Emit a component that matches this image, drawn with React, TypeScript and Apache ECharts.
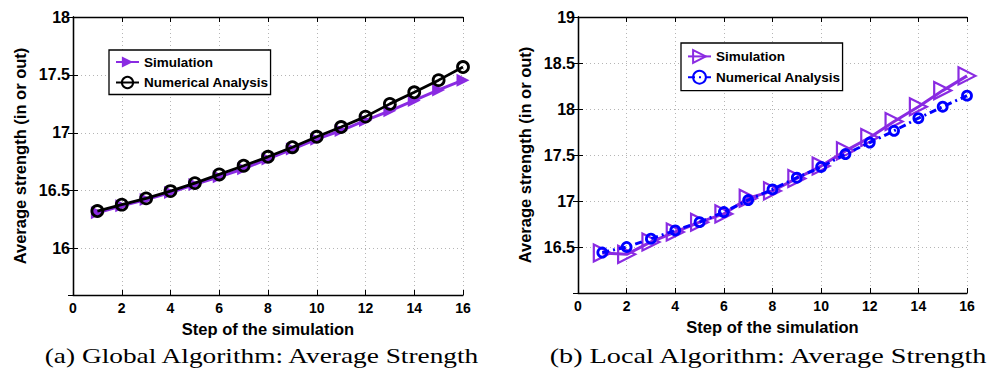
import React, { useEffect, useRef } from "react";
import * as echarts from "echarts";

const steps = [1, 2, 3, 4, 5, 6, 7, 8, 9, 10, 11, 12, 13, 14, 15, 16];

const globalSimulation = [16.31, 16.37, 16.425, 16.485, 16.555, 16.62, 16.69, 16.775, 16.86, 16.945, 17.02, 17.107, 17.19, 17.28, 17.37, 17.455];
const globalNumerical = [16.325, 16.38, 16.434, 16.497, 16.566, 16.641, 16.716, 16.793, 16.876, 16.966, 17.05, 17.14, 17.25, 17.35, 17.455, 17.568];

const localSimulation = [16.435, 16.42, 16.555, 16.663, 16.77, 16.86, 17.03, 17.11, 17.245, 17.38, 17.545, 17.69, 17.865, 18.025, 18.2, 18.36];
const localNumerical = [16.44, 16.5, 16.59, 16.68, 16.77, 16.88, 17.01, 17.126, 17.253, 17.37, 17.51, 17.635, 17.763, 17.9, 18.025, 18.145];

const seriesNames = ["Simulation", "Numerical Analysis"];
const captions = ["(a) Global Algorithm: Average Strength", "(b) Local Algorithm: Average Strength"];
const xAxisTitle = "Step of the simulation";
const yAxisTitle = "Average strength (in or out)";

const xRange = { min: 0, max: 16, interval: 2 };
const yRangeA = { min: 15.6, max: 18 };
const yRangeB = { min: 16, max: 19, interval: 0.5 };

const PURPLE = "#8a2be2";
const BLUE = "#0000ff";
const SANS = "Liberation Sans";
const SERIF = "Liberation Serif";

function pairs(ys: number[]) {
  return steps.map((s, i) => [s, ys[i]]);
}

function measure(text: string, size: number, family: string) {
  const ctx = document.createElement("canvas").getContext("2d");
  if (!ctx) return text.length * size * 0.45;
  ctx.font = `${size}px "${family}"`;
  return ctx.measureText(text).width;
}

export default function App() {
  const ref = useRef<HTMLDivElement>(null);
  useEffect(() => {
    if (!ref.current) return;
    const chart = echarts.init(ref.current, undefined, { renderer: "svg" });

    const axisLine = { show: true, lineStyle: { color: "#000", width: 1.3 } };
    const tick = { show: true, inside: true, length: 5, lineStyle: { color: "#000", width: 1 } };
    const split = { show: true, lineStyle: { color: "#b5b5b5", width: 1, type: [1, 3] } };
    const xLabel = { color: "#000", fontFamily: SANS, fontWeight: "bold", fontSize: 14, margin: 6 };
    const yLabel = { color: "#000", fontFamily: SANS, fontWeight: "bold", fontSize: 16, margin: 3 };

    const mkX = (gi: number) => [
      {
        type: "value", gridIndex: gi, position: "bottom", ...xRange,
        axisLine, axisTick: tick, axisLabel: xLabel, splitLine: split,
        name: xAxisTitle, nameLocation: "middle", nameGap: 25,
        nameTextStyle: { color: "#000", fontFamily: SANS, fontWeight: "bold", fontSize: 16.5 },
      },
      {
        type: "value", gridIndex: gi, position: "top", ...xRange,
        axisLine, axisTick: tick, axisLabel: { show: false }, splitLine: { show: false },
      },
    ];
    const mkY = (gi: number, range: any) => [
      {
        type: "value", gridIndex: gi, position: "left", ...range,
        axisLine, axisTick: tick, axisLabel: { ...yLabel, showMinLabel: false }, splitLine: split,
        name: yAxisTitle, nameLocation: "middle", nameGap: 45, nameRotate: 90,
        nameTextStyle: { color: "#000", fontFamily: SANS, fontWeight: "bold", fontSize: 16.5 },
      },
      {
        type: "value", gridIndex: gi, position: "right", ...range,
        axisLine, axisTick: tick, axisLabel: { show: false }, splitLine: { show: false },
      },
    ];

    const capSize = 22;
    const capW = [437, 440];
    const capX = [261.5, 768];
    const graphics = captions.map((c, i) => ({
      type: "text",
      x: capX[i],
      y: 355,
      scaleX: capW[i] / measure(c, capSize, SERIF),
      style: {
        text: c, fontFamily: SERIF, fontSize: capSize, fontWeight: "normal",
        fill: "#000", align: "center", verticalAlign: "middle",
      },
    }));

    const legendBase = {
      orient: "vertical",
      backgroundColor: "#fff",
      borderColor: "#000",
      borderWidth: 1.3,
      itemWidth: 23,
      textStyle: { color: "#000", fontFamily: SANS, fontWeight: "bold", fontSize: 13.5 },
      formatter: (n: string) => n.replace(/ [ab]$/, ""),
    };

    chart.setOption({
      animation: false,
      backgroundColor: "#fff",
      grid: [
        { left: 73, top: 17, width: 390, height: 278 },
        { left: 578, top: 17, width: 389, height: 276 },
      ],
      xAxis: [...mkX(0), ...mkX(1)],
      yAxis: [...mkY(0, yRangeA), ...mkY(1, yRangeB)],
      legend: [
        {
          ...legendBase,
          data: [seriesNames[0] + " a", seriesNames[1] + " a"],
          left: 109, top: 50, padding: [5, 2, 5, 6], itemGap: 6.5, itemHeight: 14,
        },
        {
          ...legendBase,
          data: [seriesNames[0] + " b", seriesNames[1] + " b"],
          left: 681, top: 43, padding: [6, 2, 6, 6], itemGap: 6, itemHeight: 16,
        },
      ],
      graphic: graphics,
      series: [
        {
          name: seriesNames[0] + " a", type: "line", xAxisIndex: 0, yAxisIndex: 0,
          data: pairs(globalSimulation),
          symbol: "triangle", symbolRotate: -90, symbolSize: 13,
          itemStyle: { color: PURPLE },
          lineStyle: { color: PURPLE, width: 3 },
          z: 2,
        },
        {
          name: seriesNames[1] + " a", type: "line", xAxisIndex: 0, yAxisIndex: 0,
          data: pairs(globalNumerical),
          symbol: "circle", symbolSize: 11,
          itemStyle: { color: "rgba(0,0,0,0)", borderColor: "#000", borderWidth: 2.8 },
          lineStyle: { color: "#000", width: 2.8 },
          z: 3,
        },
        {
          name: seriesNames[0] + " b", type: "line", xAxisIndex: 2, yAxisIndex: 2,
          data: pairs(localSimulation),
          symbol: "triangle", symbolRotate: -90, symbolSize: 17,
          itemStyle: { color: "rgba(0,0,0,0)", borderColor: PURPLE, borderWidth: 2.2 },
          lineStyle: { color: PURPLE, width: 3 },
          z: 2,
        },
        {
          name: seriesNames[1] + " b", type: "line", xAxisIndex: 2, yAxisIndex: 2,
          data: pairs(localNumerical),
          symbol: "circle", symbolSize: 9,
          itemStyle: { color: "rgba(0,0,0,0)", borderColor: BLUE, borderWidth: 2.8 },
          lineStyle: { color: BLUE, width: 3, type: [7, 4, 2, 4] },
          z: 3,
        },
      ],
    });
    return () => chart.dispose();
  }, []);
  return (
    <div
      ref={ref}
      style={{ position: "fixed", left: 0, top: 0, width: 997, height: 375, background: "#fff" }}
    />
  );
}
